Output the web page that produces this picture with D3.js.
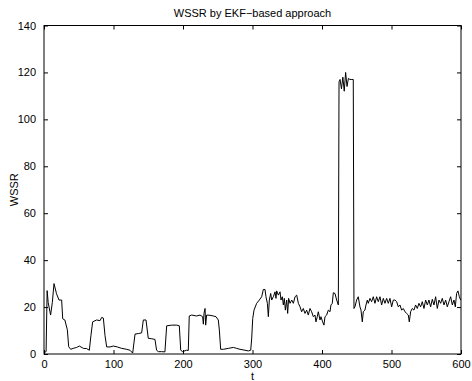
<!DOCTYPE html>
<html>
<head>
<meta charset="utf-8">
<script src="https://cdn.jsdelivr.net/npm/d3@7"></script>
<style>
  body { margin: 0; background: #fff; }
  svg text { font-family: "Liberation Sans", Arial, Helvetica, sans-serif; fill: #000; }
</style>
</head>
<body>
<svg id="chart"></svg>
<script>
// values
var tVals = [0, 3, 4.5, 6, 9.5, 12, 14.4, 18, 21.6, 25.4, 26.9, 30, 33.6, 35.5, 38.4, 42, 47, 50.8, 56.6, 61.4,
  65.2, 67.6, 70, 75.8, 80.6, 83, 85.4, 87.8, 90.2, 95, 99.8, 105.5, 111.8, 119, 123.7, 127.6, 131, 135.7, 140.5, 142.9,
  146.8, 150, 155, 159.7, 162, 164.5, 169.3, 174, 176.5, 183.7, 191, 194.7, 196.7, 199.5, 205, 207.6, 209, 212.5, 219.7, 224.5,
  228.3, 229.3, 230.2, 231.7, 232.6, 234, 238.8, 243.6, 247.5, 250.8, 252.3, 254.2, 258, 265.2, 272.4, 277.2, 282, 289.2, 294, 297.4,
  298.8, 300.3, 302.2, 306, 309.8, 313.2, 315.6, 318, 319.4, 321.4, 322.8, 324.2, 326.2, 327.6, 330, 332.4, 333.8, 334.8, 337.2, 339.6,
  341, 342.9, 344.4, 345.8, 347.3, 349.2, 350.6, 352, 354, 356.4, 358.8, 361.2, 363.6, 366, 368.4, 370.7, 373.1, 375.5,
  377.9, 380.3, 382.7, 385.1, 387.5, 389.9, 391.3, 393.2, 394.7, 397.1, 398.5, 400.9, 402.8, 404.3, 406.7, 409.1, 411.5, 412.9,
  414.8, 416.3, 418.7, 421.1, 423.5, 424.5, 426, 428, 430, 432, 434, 436, 438, 440, 442, 445, 446,
  447.4, 449.8, 452.2, 454.6, 456.1, 458, 459.4, 461.8, 463.3, 465.2, 466.6, 469, 471.4, 473.8, 476.2, 478.6, 481, 483.4,
  485.8, 488.2, 490.6, 493, 495.4, 497.8, 500.2, 502.6, 505, 507.4, 509.8, 512.2, 514.6, 517, 519.4, 521.8, 524.2, 525.6,
  527.5, 529.9, 532.3, 534.7, 537.1, 539.5, 541.9, 544.3, 546.7, 549.1, 551.5, 553.9, 556.3, 558.7, 561.1, 563.5, 565.9, 568.3,
  570.7, 573.1, 575.5, 577.9, 580.3, 582.7, 585.1, 587.5, 589.9, 591.8, 593.7, 595.6, 597.6, 599.5];
var wssr = [0.5, 1, 27, 22, 16.6, 22, 30, 25.7, 23, 23, 15, 14.5, 10.3, 3.1, 2, 2.4, 2.8, 3.4, 2.4, 2.3,
  1.6, 8, 13.7, 14.5, 14.2, 15.6, 15.3, 7.8, 3, 3, 3.4, 3, 2.4, 2, 1.6, 0.4, 8.5, 8.7, 9, 14.5,
  14.5, 6.7, 6.5, 6.2, 1.6, 1, 1, 0.9, 12, 12.3, 12.3, 12, 1.6, 1, 1.6, 1.5, 16.2, 16.6, 16.2, 16.6,
  15.9, 12.7, 17.3, 19.4, 12.3, 16.6, 16.5, 16.2, 15.9, 14.5, 10.2, 2, 2, 2.4, 2.8, 2.4, 2, 1.6, 1.3, 1.6,
  6.4, 15.1, 18.7, 21.6, 23, 24.4, 27.5, 27.5, 24.4, 21.6, 15.9, 23, 25.8, 23, 24.4, 26.5, 23.7, 26.9, 25.1, 26.5,
  23, 24.4, 20.9, 23.7, 18.7, 23, 17.3, 23.7, 21.6, 23, 21.6, 24.4, 25.1, 21.6, 20.1, 18, 19.4, 17.3,
  18.7, 16.6, 19.4, 18, 15.9, 16.6, 13.7, 15.9, 18, 14.5, 15.9, 13.7, 12.3, 15.9, 16.6, 18.7, 18, 20.9,
  21.6, 26.1, 25.8, 23, 20.9, 116, 117, 113, 118, 112, 120, 114, 117.5, 117, 117, 117, 19.4,
  20.1, 23, 24.4, 20.1, 18.7, 13.7, 18, 18.7, 20.9, 23, 21.6, 23.7, 22.3, 24.4, 21.6, 24.4, 22.3, 24.4,
  20.9, 23.7, 21.6, 23.7, 21.6, 23.7, 20.1, 23, 23, 22.3, 20.1, 20.9, 18.7, 19.4, 18, 17.3, 16.6, 13.7,
  18, 19.4, 18.7, 20.9, 19.4, 21.6, 20.1, 22.3, 19.4, 23, 20.9, 23, 20.1, 23.3, 20.9, 24.4, 19.4, 23,
  21.6, 23.7, 20.9, 23, 20.1, 22.3, 24.4, 20.9, 23, 20.1, 25.8, 26.9, 24.4, 23];
var xTicks = [0, 100, 200, 300, 400, 500, 600];
var yTicks = [0, 20, 40, 60, 80, 100, 120, 140];

var width = 472, height = 381;
var margin = {top: 25.5, right: 11, bottom: 27, left: 44};
var iw = width - margin.left - margin.right,
    ih = height - margin.top - margin.bottom;

var svg = d3.select("#chart").attr("width", width).attr("height", height);

var x = d3.scaleLinear().domain([0, 600]).range([0, iw]);
var y = d3.scaleLinear().domain([0, 140]).range([ih, 0]);

var g = svg.append("g").attr("transform", "translate(" + margin.left + "," + margin.top + ")");

// data line
var data = tVals.map(function(t, i) { return {t: t, v: wssr[i]}; });
var line = d3.line().x(function(d) { return x(d.t); }).y(function(d) { return y(d.v); });
g.append("path")
  .datum(data)
  .attr("fill", "none")
  .attr("stroke", "#000")
  .attr("stroke-width", 1)
  .attr("stroke-linejoin", "round")
  .attr("d", line);

// axes, matlab style: ticks inward on all four sides
var fmt = d3.format("d");
var axBottom = g.append("g").attr("transform", "translate(0," + ih + ")")
  .call(d3.axisBottom(x).tickValues(xTicks).tickFormat(fmt).tickSizeInner(-4).tickSizeOuter(0).tickPadding(6));
var axTop = g.append("g")
  .call(d3.axisTop(x).tickValues(xTicks).tickFormat("").tickSizeInner(-4).tickSizeOuter(0));
var axLeft = g.append("g")
  .call(d3.axisLeft(y).tickValues(yTicks).tickFormat(fmt).tickSizeInner(-4).tickSizeOuter(0).tickPadding(8));
var axRight = g.append("g").attr("transform", "translate(" + iw + ",0)")
  .call(d3.axisRight(y).tickValues(yTicks).tickFormat("").tickSizeInner(-4).tickSizeOuter(0));

[axBottom, axTop, axLeft, axRight].forEach(function(a) {
  a.select(".domain").remove();
  a.selectAll("line").attr("stroke", "#000");
  a.selectAll("text").style("font-size", "11px").attr("fill", "#000");
});

g.append("rect")
  .attr("width", iw).attr("height", ih)
  .attr("fill", "none").attr("stroke", "#000").attr("stroke-width", 1);

// labels
svg.append("text")
  .attr("x", margin.left + iw / 2).attr("y", 17)
  .attr("text-anchor", "middle").style("font-size", "11px")
  .text("WSSR by EKF\u2212based approach");

svg.append("text")
  .attr("x", margin.left + iw / 2).attr("y", 380)
  .attr("text-anchor", "middle").style("font-size", "11px")
  .text("t");

svg.append("text")
  .attr("transform", "translate(18," + (margin.top + ih / 2) + ") rotate(-90)")
  .attr("text-anchor", "middle").style("font-size", "11px")
  .text("WSSR");
</script>
</body>
</html>
